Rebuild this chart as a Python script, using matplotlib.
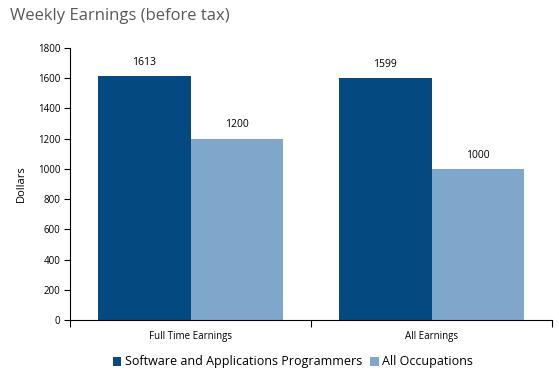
import matplotlib.pyplot as plt
import numpy as np

plt.rcParams['font.family'] = ['Open Sans', 'DejaVu Sans']

categories = ['Full Time Earnings', 'All Earnings']
programmers = [1613, 1599]
all_occupations = [1200, 1000]
series_names = ['Software and Applications Programmers', 'All Occupations']

dark = '#044A80'
light = '#7FA7CC'

fig = plt.figure(figsize=(5.59, 3.8), dpi=100)
ax = fig.add_axes([70 / 559, 1 - 320 / 380, 482 / 559, 272 / 380])

x = np.arange(len(categories))
w = 0.385
b1 = ax.bar(x - w / 2, programmers, w, color=dark, label=series_names[0])
b2 = ax.bar(x + w / 2, all_occupations, w, color=light, label=series_names[1])

for bars in (b1, b2):
    for rect in bars:
        ax.annotate(str(int(rect.get_height())),
                    (rect.get_x() + rect.get_width() / 2, rect.get_height()),
                    xytext=(0, 6), textcoords='offset points',
                    ha='center', va='bottom', fontsize=7.5, color='black')

ax.set_xlim(-0.5, 1.5)
ax.set_ylim(0, 1800)
ax.set_yticks(range(0, 1801, 200))
ax.tick_params(axis='y', labelsize=7, length=4, direction='out', pad=3)

ax.set_xticks([-0.5, 0.5, 1.5])
ax.set_xticklabels([])
ax.set_xticks(x, minor=True)
ax.set_xticklabels(categories, minor=True)
ax.tick_params(axis='x', which='major', length=5, direction='out')
ax.tick_params(axis='x', which='minor', length=0, labelsize=7, pad=8)

for s in ['top', 'right']:
    ax.spines[s].set_visible(False)
ax.spines['left'].set_linewidth(0.8)
ax.spines['bottom'].set_linewidth(0.8)

ax.set_ylabel('Dollars', fontsize=8, labelpad=8)

fig.text(10 / 559, 1 - 16 / 380, 'Weekly Earnings (before tax)', fontsize=12,
         color='#595959', va='center', ha='left')

fig.legend(handles=[b1, b2], loc='center', bbox_to_anchor=(293 / 559, 1 - 362 / 380),
           ncol=2, frameon=False, fontsize=9, handlelength=0.7, handleheight=0.7,
           handletextpad=0.3, columnspacing=0.6)

fig.savefig('out.png', dpi=100)
